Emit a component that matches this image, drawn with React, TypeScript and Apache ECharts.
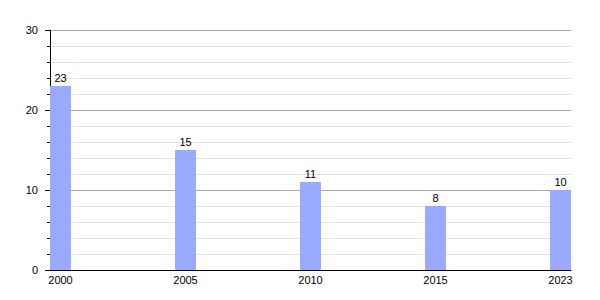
import React, { useEffect, useRef } from "react";
import * as echarts from "echarts";

const years = ["2000", "2005", "2010", "2015", "2023"];
const values = [23, 15, 11, 8, 10];
const yTicks = [0, 10, 20, 30];

export default function App() {
  const ref = useRef<HTMLDivElement>(null);
  useEffect(() => {
    if (!ref.current) return;
    const chart = echarts.init(ref.current, null, { renderer: "svg" });
    const font = 'Arial, "Liberation Sans", sans-serif';
    chart.setOption({
      animation: false,
      grid: { left: 50, right: 29, top: 30, bottom: 30, containLabel: false },
      xAxis: {
        type: "value",
        min: -0.084,
        max: 4.084,
        axisLine: { show: true, onZero: false, lineStyle: { color: "#000", width: 1 } },
        axisTick: { show: false },
        splitLine: { show: false },
        axisLabel: {
          customValues: [0, 1, 2, 3, 4],
          formatter: (v: number) => years[Math.round(v)],
          color: "#000",
          fontSize: 11,
          fontFamily: font,
          margin: 4,
        },
      },
      yAxis: {
        type: "value",
        min: yTicks[0],
        max: yTicks[yTicks.length - 1],
        interval: 10,
        axisLine: { show: true, onZero: false, lineStyle: { color: "#000", width: 1 } },
        axisTick: { show: true, length: 5, lineStyle: { color: "#000" } },
        minorTick: { show: true, splitNumber: 5, length: 3, lineStyle: { color: "#000" } },
        splitLine: { show: true, lineStyle: { color: "#aaa", width: 1 } },
        minorSplitLine: { show: true, lineStyle: { color: "#e2e2e2", width: 1 } },
        axisLabel: { color: "#000", fontSize: 11, fontFamily: font, margin: 12 },
      },
      series: [
        {
          type: "bar",
          data: values.map((v, i) => [i, v]),
          barWidth: 21,
          itemStyle: { color: "#9aabff" },
          label: {
            show: true,
            position: "top",
            distance: 3,
            color: "#000",
            fontSize: 11,
            fontFamily: font,
          },
        },
      ],
    });
    return () => chart.dispose();
  }, []);
  return (
    <div
      ref={ref}
      style={{ position: "fixed", left: 0, top: 0, width: 600, height: 300, background: "#fff" }}
    />
  );
}
